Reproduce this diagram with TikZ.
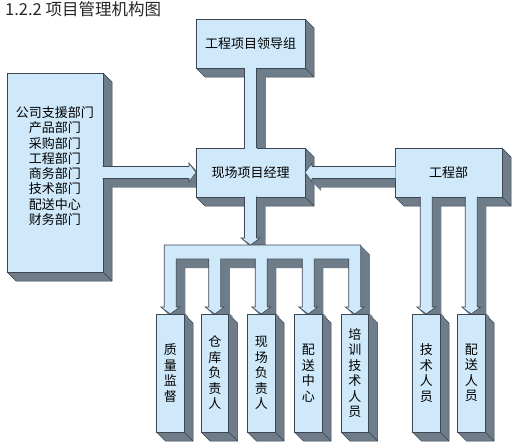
\documentclass[tikz,border=0pt]{standalone}
\usepackage{fontspec}
\setmainfont{Noto Sans CJK SC}
\usetikzlibrary{calc}
\definecolor{facec}{HTML}{CFE9FA}
\definecolor{sidec}{HTML}{6F7D8B}
\definecolor{edgec}{HTML}{3D4752}
\pgfdeclarelayer{back}
\pgfdeclarelayer{front}
\pgfsetlayers{back,main,front}
\tikzset{
  box/.style={draw=edgec, fill=facec, line width=0.6pt, inner sep=0pt, outer sep=0pt,
    anchor=north west, font=\fontsize{13}{15.3}\selectfont, text=black, align=center},
  vbox/.style={box, minimum width=27.5pt, minimum height=118pt, font=\fontsize{13}{15.5}\selectfont},
  sideface/.style={fill=sidec, draw=edgec, line width=0.5pt, line join=round},
  pipeface/.style={fill=facec, draw=edgec, line width=0.6pt, line join=miter},
  boxtext/.style={font=\fontsize{13}{15.3}\selectfont, text=black, align=center, inner sep=0pt},
}
\newcommand\bxd{9}
\newcommand\threed[1]{%
  \begin{pgfonlayer}{back}
  \filldraw[sideface] (#1.north east) -- ++(\bxd,\bxd) -- ([shift={(\bxd,\bxd)}]#1.south east) -- (#1.south east) -- cycle;
  \filldraw[sideface] (#1.south west) -- ++(\bxd,\bxd) -- ([shift={(\bxd,\bxd)}]#1.south east) -- (#1.south east) -- cycle;
  \end{pgfonlayer}}
\newcommand\pipe[1]{%
  \begin{pgfonlayer}{back}
  \foreach \t in {1,...,9}{\fill[sidec, transform canvas={shift={(\t pt,-\t pt)}}] #1;}
  \end{pgfonlayer}
  \begin{pgfonlayer}{front}
  \filldraw[pipeface] #1;
  \end{pgfonlayer}}
\begin{document}
\begin{tikzpicture}[x=1pt,y=-1pt]
\useasboundingbox (0,0) rectangle (517,447);
\node[anchor=base west, font=\fontsize{16.5}{18}\selectfont, text=black!85, inner sep=0pt] (title) at (5,16) {1.2.2 项目管理机构图};

% boxes
\node[box, minimum width=109pt, minimum height=49pt] (lead) at (196,19) {工程项目领导组};
\node[box, minimum width=96pt, minimum height=199pt] (support) at (7,73) {};
\node[boxtext] (supporttext) at ([shift={(0,-6.5)}]support.center)
  {公司支援部门\\产品部门\\采购部门\\工程部门\\商务部门\\技术部门\\配送中心\\财务部门};
\node[box, minimum width=109pt, minimum height=49pt] (mgr) at (196,148) {现场项目经理};
\node[box, minimum width=107pt, minimum height=49pt] (eng) at (395,148) {工程部};
\node[vbox] (b1) at (156.5,314) {质\\量\\监\\督};
\node[vbox] (b2) at (201,314) {仓\\库\\负\\责\\人};
\node[vbox] (b3) at (247.5,314) {现\\场\\负\\责\\人};
\node[vbox] (b4) at (294.5,314) {配\\送\\中\\心};
\node[vbox] (b5) at (341,314) {培\\训\\技\\术\\人\\员};
\node[vbox] (b6) at (412.5,314) {技\\术\\人\\员};
\node[vbox] (b7) at (457.5,314) {配\\送\\人\\员};
\coordinate (bus) at (mgr.south |- 0,245);

\foreach \n in {lead,support,mgr,eng,b1,b2,b3,b4,b5,b6,b7}{\threed{\n}}

% plain pipe lead -> mgr
\begin{pgfonlayer}{back}
\foreach \t in {1,...,9}{\fill[sidec, transform canvas={shift={(\t pt,-\t pt)}}]
  let \p1=(lead.south), \p2=(mgr.north) in (\x1-6pt,\y1) rectangle (\x1+6pt,\y2);}
\end{pgfonlayer}
\begin{pgfonlayer}{front}
\fill[facec] let \p1=(lead.south), \p2=(mgr.north) in (\x1-6pt,\y1+0.5pt) rectangle (\x1+6pt,\y2-0.5pt);
\draw[edgec, line width=0.6pt] let \p1=(lead.south), \p2=(mgr.north) in
  (\x1-6pt,\y1) -- (\x1-6pt,\y2) (\x1+6pt,\y1) -- (\x1+6pt,\y2);
\end{pgfonlayer}

% support -> mgr
\pipe{let \p1=(support.east), \p2=(mgr.west) in
  (\x1-0.5pt,\y2+6pt) -- (\x2-7pt,\y2+6pt) -- (\x2-7pt,\y2+9.5pt) -- (\x2,\y2)
  -- (\x2-7pt,\y2-9.5pt) -- (\x2-7pt,\y2-6pt) -- (\x1-0.5pt,\y2-6pt)}

% eng -> mgr
\pipe{let \p1=(eng.west), \p2=(mgr.east) in
  (\x1+0.5pt,\y2+6pt) -- (\x2+7pt,\y2+6pt) -- (\x2+7pt,\y2+9.5pt) -- (\x2,\y2)
  -- (\x2+7pt,\y2-9.5pt) -- (\x2+7pt,\y2-6pt) -- (\x1+0.5pt,\y2-6pt)}

% eng -> b6, b7
\pipe{let \p1=(b6.north |- eng.south), \p2=(b6.north) in
  (\x2-6pt,\y1+0.5pt) -- (\x2-6pt,\y2+7pt) -- (\x2-9.5pt,\y2+7pt) -- (\x2,\y2)
  -- (\x2+9.5pt,\y2+7pt) -- (\x2+6pt,\y2+7pt) -- (\x2+6pt,\y1+0.5pt)}
\pipe{let \p1=(b7.north |- eng.south), \p2=(b7.north) in
  (\x2-6pt,\y1+0.5pt) -- (\x2-6pt,\y2+7pt) -- (\x2-9.5pt,\y2+7pt) -- (\x2,\y2)
  -- (\x2+9.5pt,\y2+7pt) -- (\x2+6pt,\y2+7pt) -- (\x2+6pt,\y1+0.5pt)}

% comb bus -> b1..b5
\pipe{let \p1=(b1.north), \p2=(b2.north), \p3=(b3.north), \p4=(b4.north), \p5=(b5.north), \p6=(bus) in
  (\x1-6pt,\y6) -- (\x5+6pt,\y6)
  -- (\x5+6pt,\y5+7pt) -- (\x5+9.5pt,\y5+7pt) -- (\x5,\y5) -- (\x5-9.5pt,\y5+7pt) -- (\x5-6pt,\y5+7pt)
  -- (\x5-6pt,\y6-14pt) -- (\x4+6pt,\y6-14pt)
  -- (\x4+6pt,\y4+7pt) -- (\x4+9.5pt,\y4+7pt) -- (\x4,\y4) -- (\x4-9.5pt,\y4+7pt) -- (\x4-6pt,\y4+7pt)
  -- (\x4-6pt,\y6-14pt) -- (\x3+6pt,\y6-14pt)
  -- (\x3+6pt,\y3+7pt) -- (\x3+9.5pt,\y3+7pt) -- (\x3,\y3) -- (\x3-9.5pt,\y3+7pt) -- (\x3-6pt,\y3+7pt)
  -- (\x3-6pt,\y6-14pt) -- (\x2+6pt,\y6-14pt)
  -- (\x2+6pt,\y2+7pt) -- (\x2+9.5pt,\y2+7pt) -- (\x2,\y2) -- (\x2-9.5pt,\y2+7pt) -- (\x2-6pt,\y2+7pt)
  -- (\x2-6pt,\y6-14pt) -- (\x1+6pt,\y6-14pt)
  -- (\x1+6pt,\y1+7pt) -- (\x1+9.5pt,\y1+7pt) -- (\x1,\y1) -- (\x1-9.5pt,\y1+7pt) -- (\x1-6pt,\y1+7pt)
  -- cycle}

% mgr -> bus
\pipe{let \p1=(mgr.south), \p2=(bus) in
  (\x2-6pt,\y1+0.5pt) -- (\x2-6pt,\y2+7pt) -- (\x2-9.5pt,\y2+7pt) -- (\x2,\y2)
  -- (\x2+9.5pt,\y2+7pt) -- (\x2+6pt,\y2+7pt) -- (\x2+6pt,\y1+0.5pt)}
\end{tikzpicture}
\end{document}
